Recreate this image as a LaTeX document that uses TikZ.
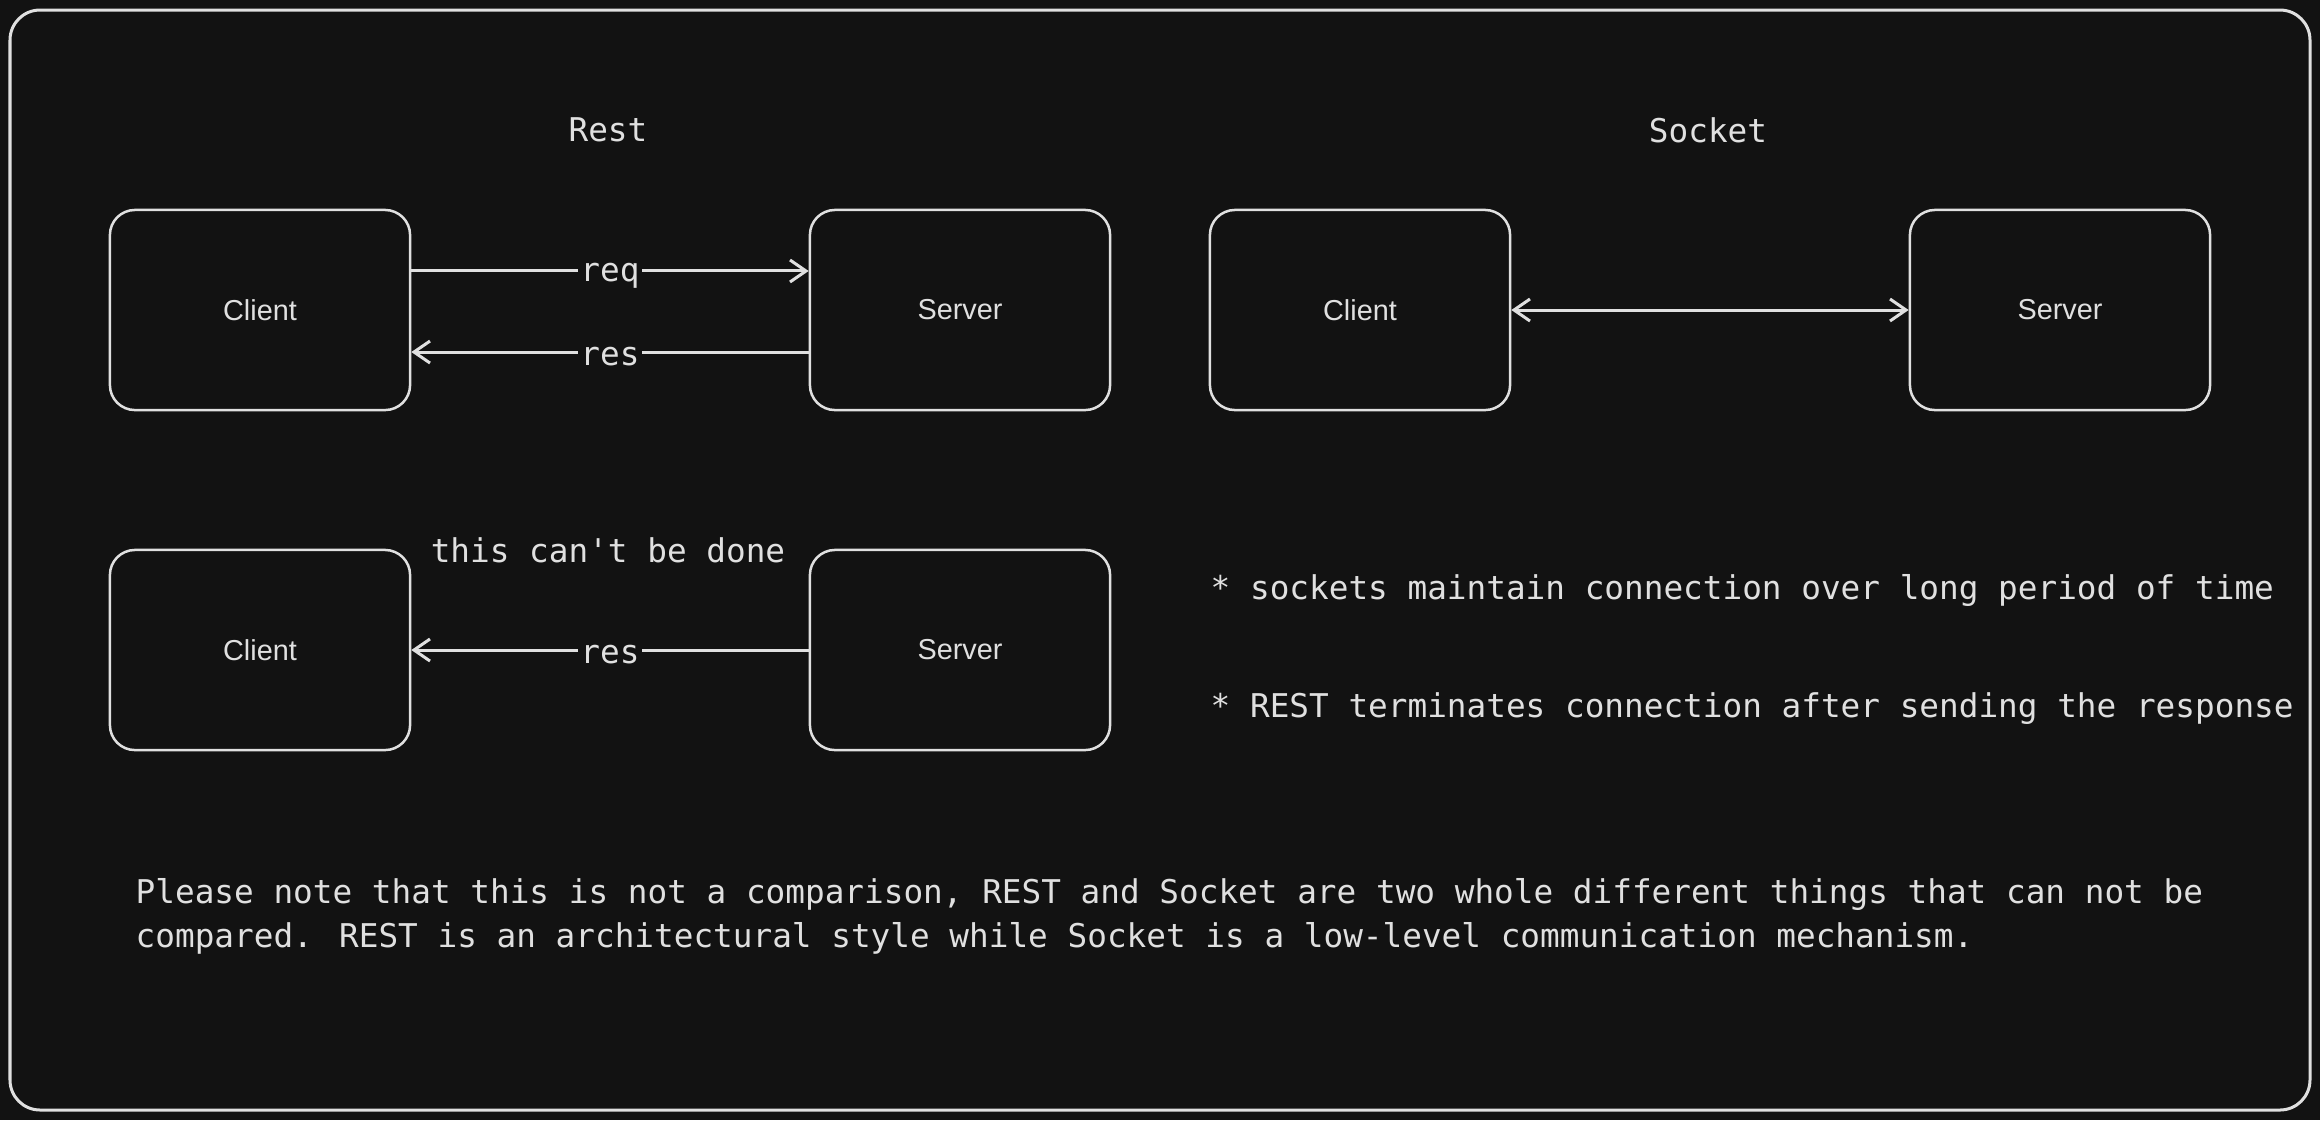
\documentclass[tikz,border=0pt]{standalone}
\usepackage{fontspec}
\newfontfamily\monofont{DejaVu Sans Mono}
\newfontfamily\labelfont{Liberation Sans}
\usetikzlibrary{arrows.meta}
\definecolor{canvas}{HTML}{121212}
\definecolor{ink}{HTML}{E0E0E0}
\begin{document}
\begin{tikzpicture}[x=0.01cm,y=-0.01cm,line join=round,
  box/.style={draw=ink,line width=0.025cm,rounded corners=0.25cm,minimum width=3cm,minimum height=2cm,inner sep=0pt,text=ink,font=\labelfont\fontsize{8.2}{10}\selectfont},
  note/.style={text=ink,font=\monofont\fontsize{9.3}{12.5}\selectfont,inner sep=0pt},
  tag/.style={fill=canvas,text=ink,font=\monofont\fontsize{9.3}{11}\selectfont,inner xsep=0.6pt,inner ysep=1pt,yshift=-0.5mm},
  link/.style={draw=ink,line width=0.03cm,-{Straight Barb[length=0.16cm,width=0.22cm]}},
  twoway/.style={draw=ink,line width=0.03cm,{Straight Barb[length=0.16cm,width=0.22cm]}-{Straight Barb[length=0.16cm,width=0.22cm]}},
]
%%
\useasboundingbox (0,0) rectangle (2320,1120);
\fill [canvas] (0,0) rectangle (2320,1120);
\draw [ink,line width=0.03cm,rounded corners=0.3cm] (10,10) rectangle (2310,1110);
%
\node (rest_title) at (608,130) [note] {Rest};
  \node (sock_title) at (1708,130) [note] {Socket};
  \node (rest_client) at (260,310) [box] {Client};
  \node (rest_server) at (960,310) [box] {Server};
  \node (sock_client) at (1360,310) [box] {Client};
  \node (sock_server) at (2060,310) [box] {Server};
  \node (lone_client) at (260,650) [box] {Client};
  \node (lone_server) at (960,650) [box] {Server};
  \node (cant_note) at (608,550) [note] {this can\textquotesingle t be done};
  \node (sock_note) at (1210,590) [note,anchor=west] {* sockets maintain connection over long period of time};
  \node (rest_note) at (1210,709) [note,anchor=west] {* REST terminates connection after sending the response};
  \node (disclaimer) at (135,916) [note,anchor=west,align=left] {Please note that this is not a comparison, REST and Socket are two whole different things that can not be\\compared. REST is an architectural style while Socket is a low-level communication mechanism.};
  \draw [link] ([yshift=3.9mm]rest_client.east) -- node [tag] {req} ([yshift=3.9mm]rest_server.west);
  \draw [link] ([yshift=-4.2mm]rest_server.west) -- node [tag] {res} ([yshift=-4.2mm]rest_client.east);
  \draw [twoway] (sock_client.east) -- (sock_server.west);
  \draw [link] (lone_server.west) -- node [tag] {res} (lone_client.east);
%
\end{tikzpicture}
\end{document}
